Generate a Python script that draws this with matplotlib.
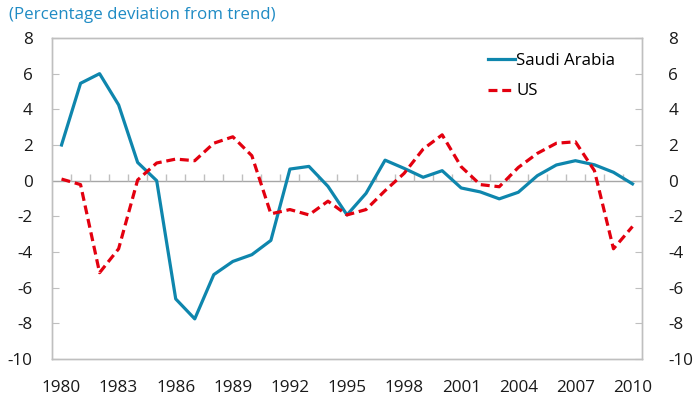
import matplotlib
matplotlib.use("Agg")
import matplotlib.pyplot as plt
import matplotlib.transforms as mtransforms

plt.rcParams['font.family'] = ['Open Sans', 'DejaVu Sans']
plt.rcParams['axes.unicode_minus'] = False

years = list(range(1980, 2011))
saudi = [2.0, 5.46, 6.0, 4.25, 1.02, 0.0, -6.63, -7.75, -5.27, -4.53, -4.15, -3.35,
         0.65, 0.8, -0.32, -1.92, -0.71, 1.15, 0.69, 0.19, 0.56, -0.41, -0.63,
         -1.02, -0.65, 0.28, 0.88, 1.12, 0.89, 0.47, -0.18]
us = [0.09, -0.22, -5.16, -3.82, 0.04, 0.99, 1.21, 1.12, 2.1, 2.46, 1.4, -1.86,
      -1.62, -1.92, -1.15, -1.92, -1.62, -0.56, 0.41, 1.77, 2.57, 0.78, -0.22,
      -0.34, 0.74, 1.53, 2.1, 2.18, 0.56, -3.82, -2.57]
yticks = list(range(-10, 9, 2))
xlabels = list(range(1980, 2011, 3))

grey = '#BFBFBF'
blue = '#0E86AD'
red = '#E3000F'

fig = plt.figure(figsize=(6.98, 4.0), dpi=100)
ax = fig.add_axes([0.0745, 0.1025, 0.8453, 0.8025])

ax.plot(years, saudi, color=blue, lw=2.3, label='Saudi Arabia', zorder=3)
ax.plot(years, us, color=red, lw=2.3, ls=(0, (2.8, 1.5)), label='US', zorder=3)

ax.set_xlim(1979.5, 2010.5)
ax.set_ylim(-10, 8)
ax.set_yticks(yticks)
ax.set_xticks(xlabels)
ax.tick_params(axis='x', length=0, labelsize=12.3, pad=15, colors='#1a1a1a')
ax.tick_params(axis='y', direction='in', length=5, color=grey, labelsize=12.3,
               pad=14, labelcolor='#1a1a1a')
for s in ax.spines.values():
    s.set_color(grey)
    s.set_linewidth(1.0)

# right-hand axis, same scale
ax2 = ax.twinx()
ax2.set_ylim(-10, 8)
ax2.set_yticks(yticks)
ax2.tick_params(axis='y', direction='in', length=5, color=grey, labelsize=12.3,
                pad=19, labelcolor='#1a1a1a')
for s in ax2.spines.values():
    s.set_color(grey)
    s.set_linewidth(1.0)

# zero line with year-boundary ticks
ax.axhline(0, color='#A6A6A6', lw=1.0, zorder=2)
trans = mtransforms.blended_transform_factory(ax.transData, ax.transData)
bounds = [y + 0.5 for y in years[:-1]]
ax.vlines(bounds, 0, 0.35, color=grey, lw=1.0, zorder=2, transform=trans)

ax.legend(loc='upper right', bbox_to_anchor=(0.975, 0.99), frameon=False, fontsize=12.2,
          handlelength=1.6, handletextpad=0.1, labelspacing=0.85, borderaxespad=0.3)

fig.text(0.013, 0.962, '(Percentage deviation from trend)', color='#1F8BC4',
         fontsize=12.2, va='center', ha='left')

fig.savefig('out.png', dpi=100)
